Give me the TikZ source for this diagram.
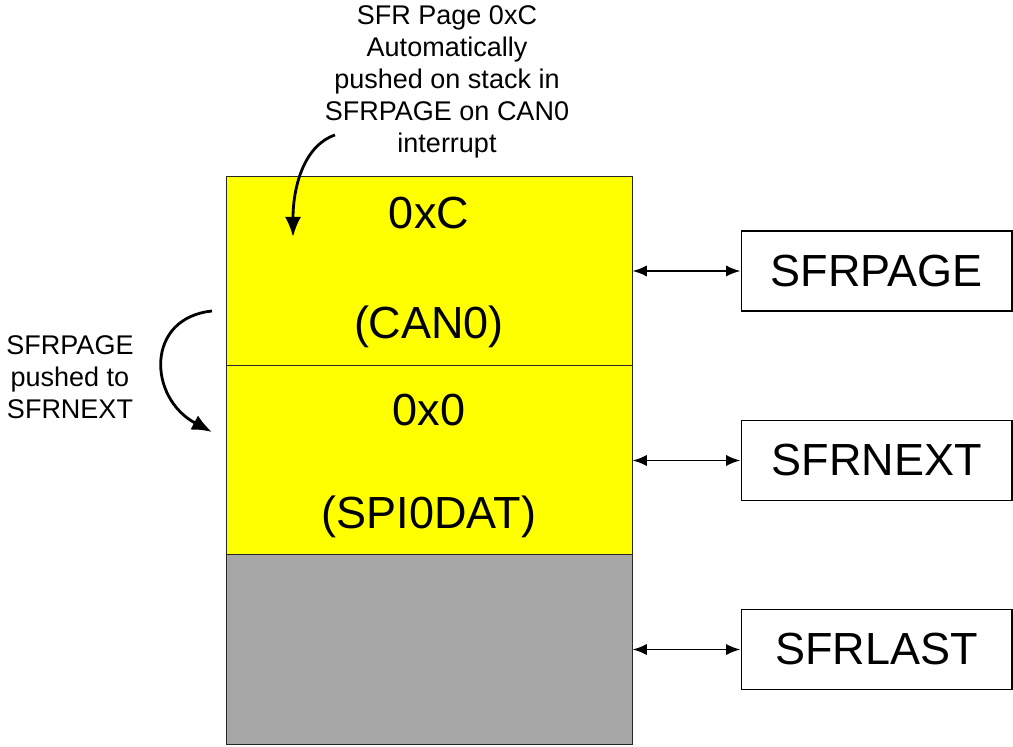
\documentclass[tikz,border=0pt]{standalone}
\usepackage{fontspec}
\setmainfont{Liberation Sans}
\usetikzlibrary{positioning}
\usetikzlibrary{arrows.meta}
\definecolor{stackyellow}{RGB}{255,255,0}
\definecolor{stackgray}{RGB}{166,166,166}

\begin{document}
\begin{tikzpicture}[
            x=0.025cm,
            y=-0.025cm,
            cell/.style={
                draw=black!85,
                line width=0.6pt,
                minimum width=10.15cm,
                minimum height=4.73cm,
                inner sep=0pt
            },
            reg/.style={
                draw,
                line width=1.4pt,
                minimum width=6.75cm,
                minimum height=2cm,
                inner sep=0pt,
                font=\fontsize{32}{38}\selectfont
            },
            big/.style={
                font=\fontsize{32}{38}\selectfont
            },
            note/.style={
                align=center,
                font=\fontsize{19.2}{22.7}\selectfont
            },
            link/.style={
                {Latex[length=3.6mm,width=2.8mm]}-{Latex[length=3.6mm,width=2.8mm]},
                line width=1.4pt
            },
            push/.style={
                -{Latex[length=5mm,width=4mm]},
                line width=2pt
            }
        ]

            \useasboundingbox (0,0) rectangle (1013,747);

            % Stack cells
            \node[cell, fill=stackyellow] (page) at (429,271) {};
            \node[cell, fill=stackyellow] (next) at (429,460.5) {};
            \node[cell, fill=stackgray] (last) at (429,649.5) {};

            % Cell contents
            \node[big] (pagehi) at (429,213) {0xC};
            \node[big] (pagelo) at (429,327) {(CAN0)};
            \node[big] (nexthi) at (429,410) {0x0};
            \node[big] (nextlo) at (429,517) {(SPI0DAT)};

            % Registers
            \node[reg, right=2.7cm of page] (sfrpage) {SFRPAGE};
            \node[reg, right=2.7cm of next] (sfrnext) {SFRNEXT};
            \node[reg, right=2.7cm of last] (sfrlast) {SFRLAST};

            \draw[link] (page) -- (sfrpage);
            \draw[link] (next) -- (sfrnext);
            \draw[link] (last) -- (sfrlast);

            % Notes
            \node[note] (autonote) at (447,82) {SFR Page 0xC\\Automatically\\pushed on stack in\\SFRPAGE on CAN0\\interrupt};
            \node[note] (pushnote) at (70,377) {SFRPAGE\\pushed to\\SFRNEXT};

            % Curved arrows
            \coordinate (autofrom) at (335,135);
            \coordinate (autoto) at (293,237);
            \coordinate (pushfrom) at (212,311);
            \coordinate (pushto) at (212,432);
            \draw[push] (autofrom) .. controls (305,145) and (293,185) .. (autoto);
            \draw[push] (pushfrom) .. controls (145,318) and (148,398) .. (pushto);

        \end{tikzpicture}
\end{document}
